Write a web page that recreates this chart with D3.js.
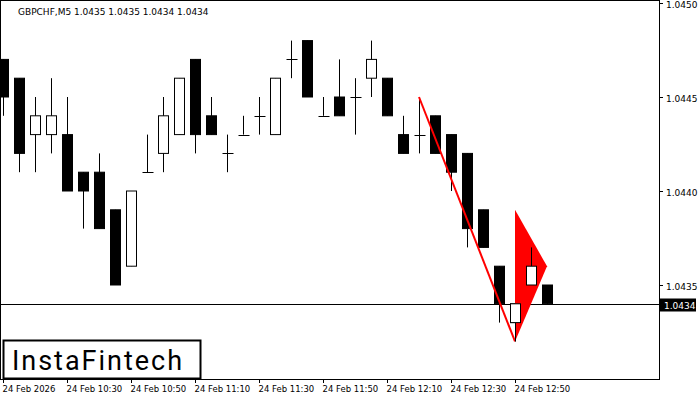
<!DOCTYPE html><html><head><meta charset="utf-8"><script src="https://d3js.org/d3.v7.min.js"></script>
<style>body{margin:0;background:#fff}svg{font-family:"DejaVu Sans",sans-serif}</style></head><body><svg width="700" height="400"></svg>
<script>
const opens =[1.0447,1.0446,1.0443,1.0443,1.0443,1.0441,1.0441,1.0439,1.0436,1.0441,1.0442,1.0443,1.0447,1.0444,1.0442,1.0443,1.0444,1.0443,1.0447,1.0448,1.0444,1.0445,1.0445,1.0446,1.0446,1.0443,1.0443,1.0444,1.0443,1.0442,1.0439,1.0436,1.0433,1.0435,1.0435];
const highs =[1.0447,1.0446,1.0445,1.0446,1.0445,1.0441,1.0442,1.0439,1.0440,1.0443,1.0445,1.0446,1.0447,1.0445,1.0443,1.0444,1.0445,1.0446,1.0448,1.0448,1.0445,1.0447,1.0446,1.0448,1.0446,1.0444,1.0445,1.0444,1.0443,1.0442,1.0439,1.0436,1.0434,1.0437,1.0435];
const lows  =[1.0444,1.0441,1.0441,1.0442,1.0440,1.0438,1.0438,1.0435,1.0436,1.0441,1.0441,1.0443,1.0442,1.0443,1.0441,1.0443,1.0443,1.0443,1.0446,1.0445,1.0444,1.0444,1.0443,1.0445,1.0444,1.0442,1.0442,1.0442,1.0440,1.0437,1.0437,1.0433,1.0432,1.0435,1.0434];
const closes=[1.0445,1.0442,1.0444,1.0444,1.0440,1.0440,1.0438,1.0435,1.0440,1.0441,1.0444,1.0446,1.0443,1.0443,1.0442,1.0443,1.0444,1.0446,1.0447,1.0445,1.0444,1.0444,1.0445,1.0447,1.0444,1.0442,1.0443,1.0442,1.0441,1.0438,1.0437,1.0434,1.0434,1.0436,1.0434];
const timeLabels=["24 Feb 2026","24 Feb 10:30","24 Feb 10:50","24 Feb 11:10","24 Feb 11:30","24 Feb 11:50","24 Feb 12:10","24 Feb 12:30","24 Feb 12:50"];
const labelIdx=[0,4,8,12,16,20,24,28,32];
const priceTicks=[1.0450,1.0445,1.0440,1.0435];
const lastPrice=1.0434;
const flagPole=[[26,1.0445],[32,1.0432]];
const flagTri=[[32,1.0432],[32,1.0439],[34,1.0436]];

const svg=d3.select("svg");
const W=659,H=379;
const x=d3.scaleLinear().domain([0,1]).range([3,19]);
const y=d3.scaleLinear().domain([1.0450,1.0435]).range([3,285]);
const bw=10;
function candle(parent,i){
  const o=opens[i],c=closes[i],cx=Math.round(x(i))+0.5;
  parent.append("line").attr("x1",cx).attr("x2",cx).attr("y1",y(highs[i])).attr("y2",y(lows[i])).attr("stroke","#000");
  const top=y(Math.max(o,c)),bot=y(Math.min(o,c));
  if(bot-top<1){parent.append("line").attr("x1",cx-5).attr("x2",cx+6).attr("y1",Math.round(top)+0.5).attr("y2",Math.round(top)+0.5).attr("stroke","#000");}
  else parent.append("rect").attr("x",cx-bw/2).attr("y",top).attr("width",bw).attr("height",bot-top)
    .attr("fill",c<o?"#000":"#fff").attr("stroke","#000");
}
const g=svg.append("g");
opens.forEach((o,i)=>candle(g,i));
svg.append("line").attr("x1",0).attr("x2",W).attr("y1",Math.round(y(lastPrice))+0.5).attr("y2",Math.round(y(lastPrice))+0.5).attr("stroke","#000");
svg.append("line").attr("x1",x(flagPole[0][0])).attr("y1",y(flagPole[0][1])).attr("x2",x(flagPole[1][0])).attr("y2",y(flagPole[1][1])).attr("stroke","#f00").attr("stroke-width",2);
svg.append("polygon").attr("points",flagTri.map(p=>[x(p[0]),y(p[1])].join(",")).join(" ")).attr("fill","#f00");
const g2=svg.append("g");
[32,33].forEach(i=>candle(g2,i));
svg.append("rect").attr("x",0.5).attr("y",0.5).attr("width",W).attr("height",H).attr("fill","none").attr("stroke","#000");
priceTicks.forEach(p=>{const yy=Math.round(y(p))+0.5;
  svg.append("line").attr("x1",W).attr("x2",W+4).attr("y1",yy).attr("y2",yy).attr("stroke","#000");
  svg.append("text").attr("x",666).attr("y",yy+4).attr("font-size",9).text(p.toFixed(4));});
const ly=Math.round(y(lastPrice))+0.5;
svg.append("rect").attr("x",660).attr("y",ly-6).attr("width",36).attr("height",13).attr("fill","#000");
svg.append("text").attr("x",664).attr("y",ly+4).attr("font-size",9).attr("fill","#fff").text(lastPrice.toFixed(4));
labelIdx.forEach((k,j)=>{const xx=Math.round(x(k))+0.5;
  svg.append("line").attr("x1",xx).attr("x2",xx).attr("y1",H).attr("y2",H+4).attr("stroke","#000");
  svg.append("text").attr("x",xx-1).attr("y",392).attr("font-size",8.5).text(timeLabels[j]);});
svg.append("text").attr("x",18).attr("y",15).attr("font-size",9).text("GBPCHF,M5  1.0435 1.0435 1.0434 1.0434");
svg.append("rect").attr("x",3.5).attr("y",340.5).attr("width",197).attr("height",38).attr("fill","#fff").attr("stroke","#000").attr("stroke-width",2);
svg.append("text").attr("x",12).attr("y",370).attr("font-size",27).attr("font-family","Roboto, sans-serif").attr("textLength",170).text("InstaFintech");
</script></body></html>
